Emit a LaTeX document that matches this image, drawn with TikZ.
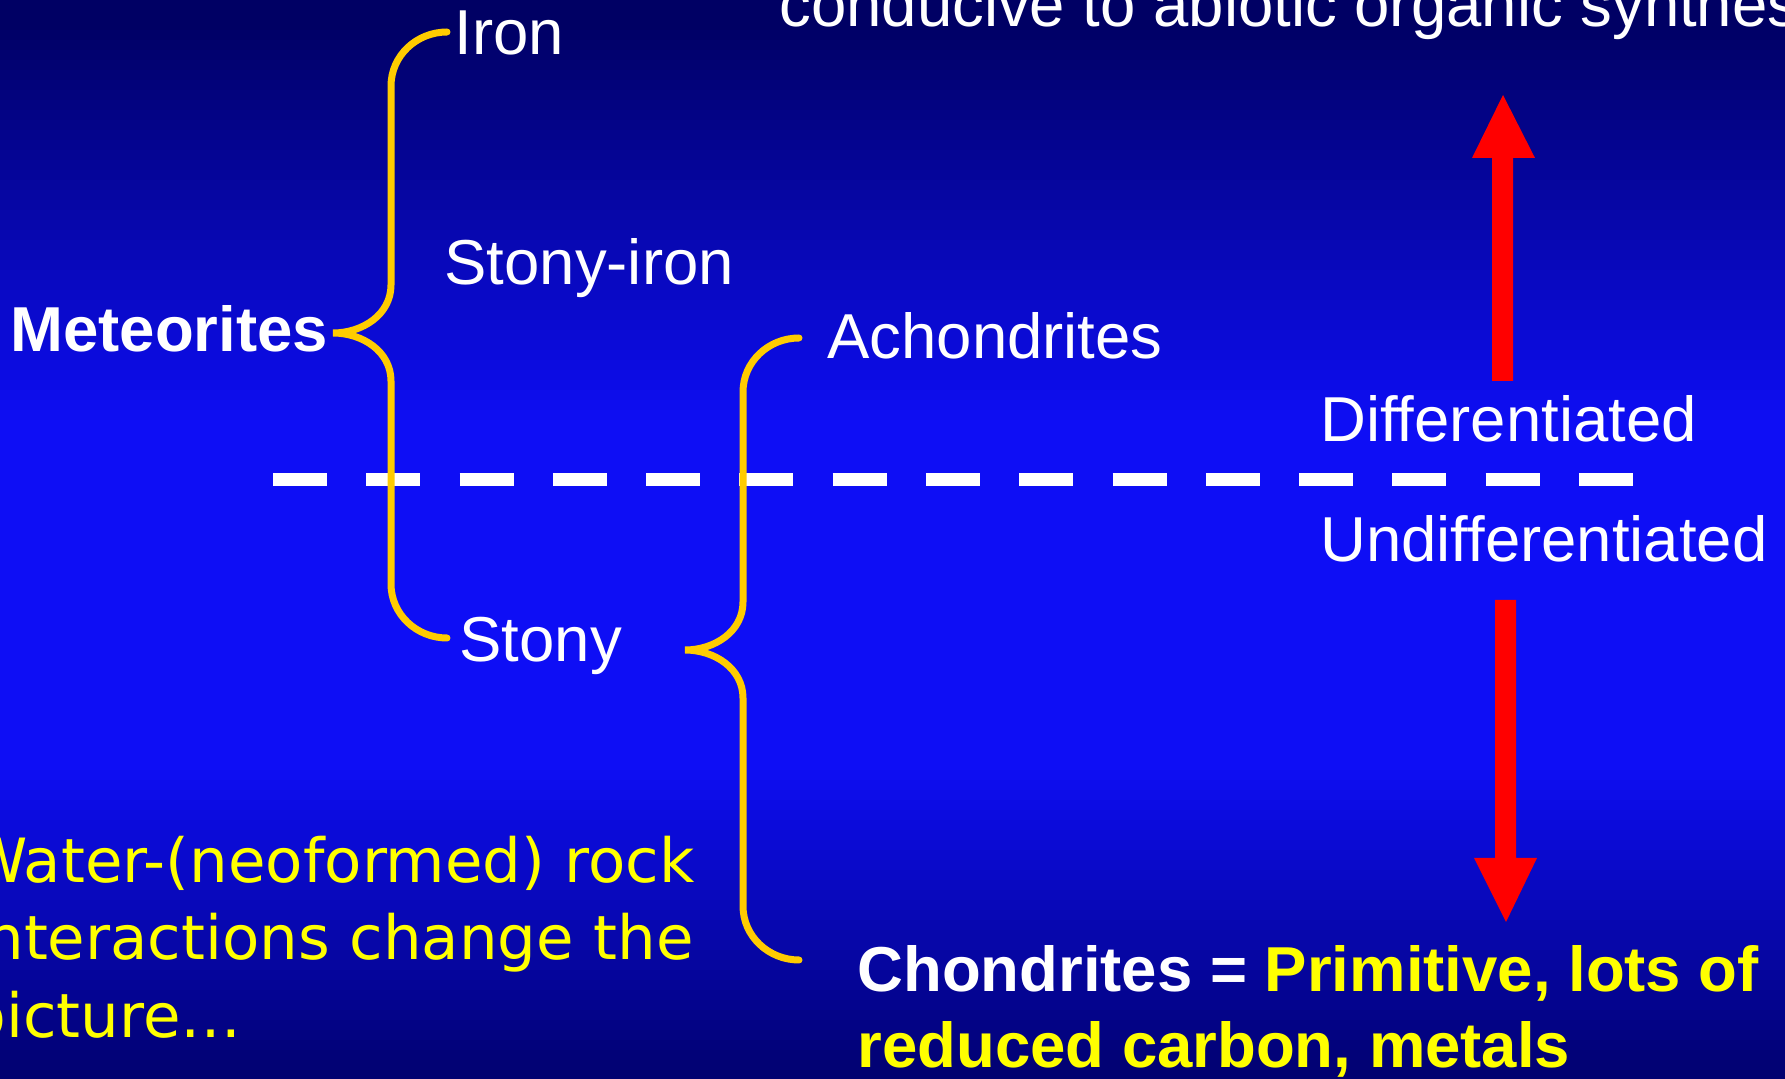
\documentclass[tikz,border=0pt]{standalone}
\usepackage{fontspec}
\setmainfont{Liberation Sans}
\newfontfamily\handfont{DejaVu Sans}
\definecolor{bgdark}{RGB}{0,0,100}
\definecolor{bgbright}{RGB}{14,14,245}
\definecolor{bracegold}{RGB}{255,204,0}
\definecolor{noteyellow}{RGB}{255,255,0}
\def\curlybrace(#1,#2,#3,#4){\draw[goldbrace] (#1+56,#2) to[out=180,in=90] (#1,#2+54) -- (#1,#3-48) to[out=270,in=0] (#1-58,#3) to[out=0,in=90] (#1,#3+48) -- (#1,#4-54) to[out=270,in=180] (#1+56,#4);}

\begin{document}
\begin{tikzpicture}[x=0.5pt, y=-0.5pt,
		goldbrace/.style={draw=bracegold, line width=3.5pt, line cap=round},
		lbl/.style={text=white, inner sep=0pt, anchor=base west, font=\fontsize{31.75}{38}\selectfont},
		boldlbl/.style={lbl, font=\fontsize{31.75}{38}\selectfont\bfseries},
		note/.style={lbl, text=noteyellow, font=\fontsize{30.5}{38}\handfont}]
			%%%%% START %%%%%
			
			\useasboundingbox (0,0) rectangle (1785,1079);
			\clip (0,0) rectangle (1785,1079);
			\foreach \y [evaluate=\y as \p using {max(0,min(100,(\y-20)/4,100-(\y-760)/3.37))}] in {0,10,...,1070}
				\fill[bgbright!\p!bgdark] (0,\y) rectangle (1785,\y+11);
			
			\draw[white, line width=6.5pt, dash pattern=on 27pt off 19.64pt] (273,479.5) -- (1633,479.5);
			
			\curlybrace(391,32,333,638)
			\curlybrace(743,338,650,960)
			
			\fill[red] (1492,381) -- (1492,158) -- (1472,158) -- (1503,95) -- (1535,158) -- (1513,158) -- (1513,381) -- cycle;
			\fill[red] (1495,600) -- (1495,858) -- (1474,858) -- (1506,922) -- (1537,858) -- (1516,858) -- (1516,600) -- cycle;
			
			\node[lbl] (title) at (779,27) {conducive to abiotic organic synthesis};
			\node[lbl] (iron) at (454,55) {Iron};
			\node[lbl] (stonyiron) at (444,285) {Stony-iron};
			\node[boldlbl] (meteorites) at (10,352) {Meteorites};
			\node[lbl] (achondrites) at (827,359) {Achondrites};
			\node[lbl] (stony) at (459,662) {Stony};
			\node[lbl] (diff) at (1320,442) {Differentiated};
			\node[lbl] (undiff) at (1320,562) {Undifferentiated};
			
			\node[boldlbl] (chondrites) at (857,992) {Chondrites = \textcolor{noteyellow}{Primitive, lots of}};
			\node[boldlbl, text=noteyellow] (chondritesb) at (857,1067) {reduced carbon, metals};
			
			\node[note] (water) at (-33,883) {Water-(neoformed) rock};
			\node[note] (waterb) at (-33,960) {Interactions change the};
			\node[note] (waterc) at (-33,1037) {picture…};
			
			%%%%% END %%%%%
\end{tikzpicture}
\end{document}
